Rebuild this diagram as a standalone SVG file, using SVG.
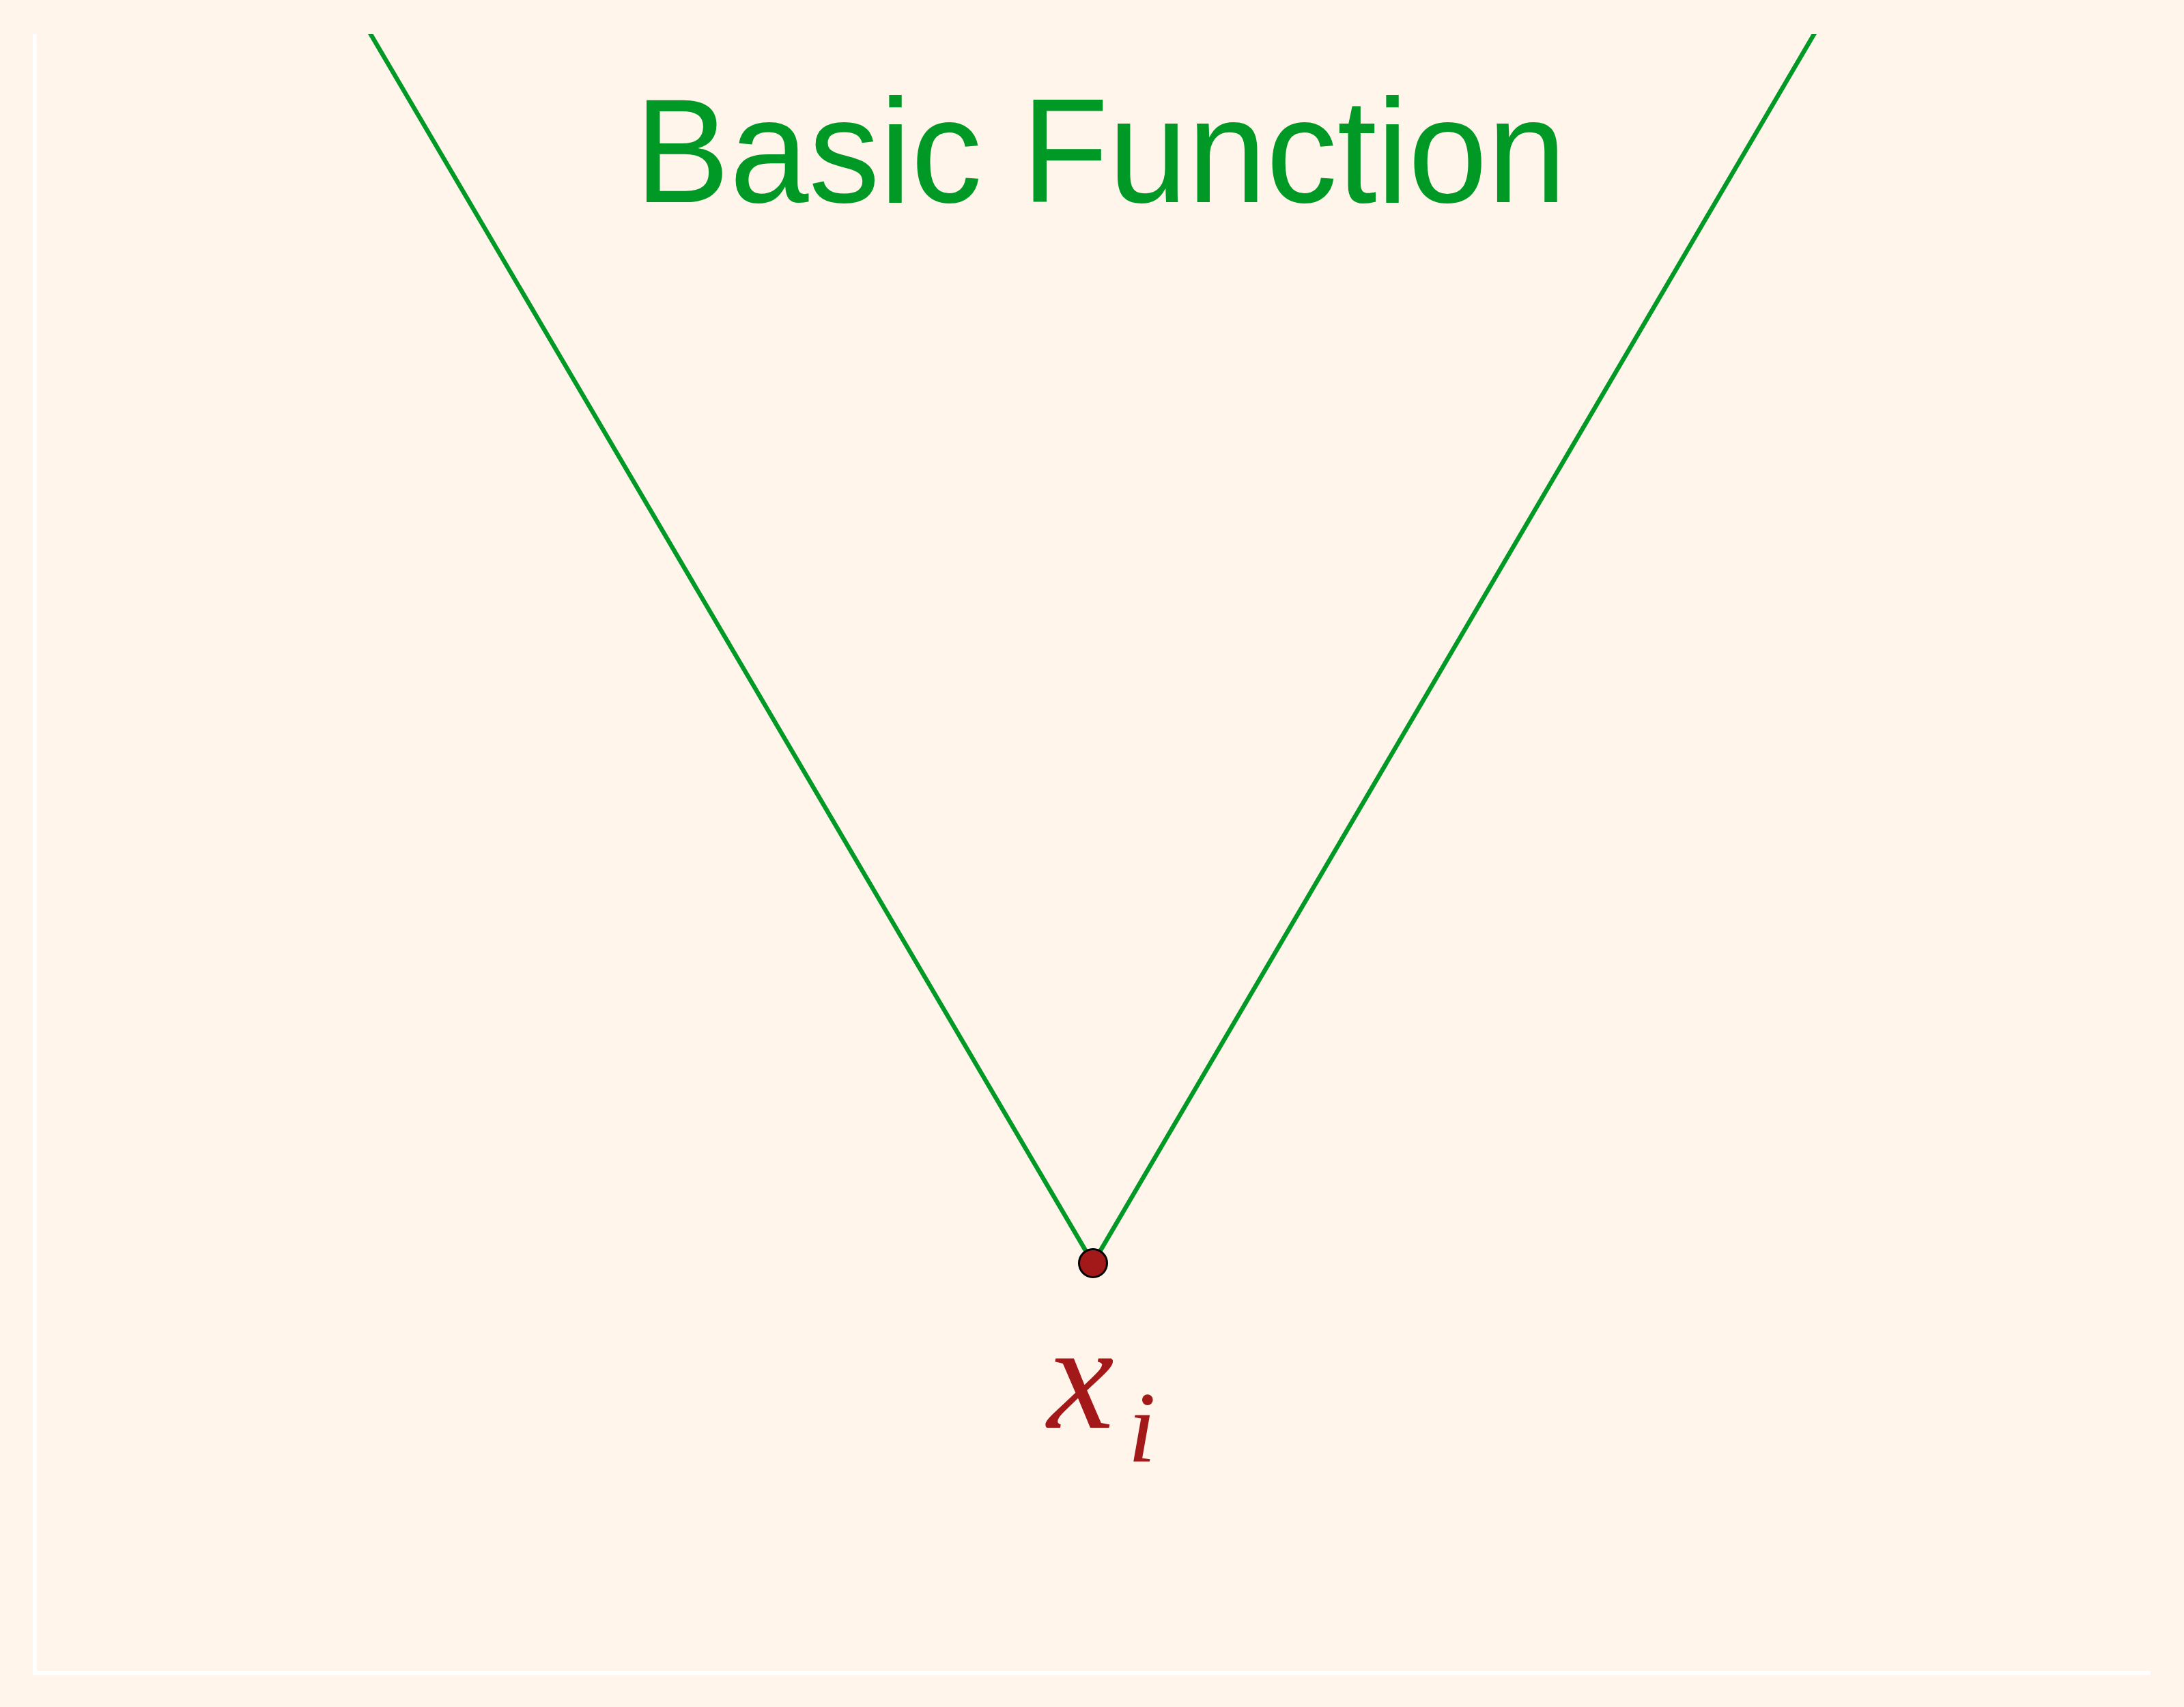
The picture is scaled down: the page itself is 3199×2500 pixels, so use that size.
<svg xmlns="http://www.w3.org/2000/svg" width="3199" height="2500" viewBox="0 0 3199 2500">
<style>
.axis{stroke:#ffffff;stroke-width:6;fill:none}
.fn{stroke:#009926;stroke-width:6.5;fill:none;stroke-linecap:butt}
.title{font-family:"Liberation Sans",Arial,sans-serif;font-size:208px;fill:#009926}
.math{font-family:"Liberation Serif","Times New Roman",serif;font-style:italic;fill:#a31818}
</style>
<defs>
<clipPath id="plot"><rect x="0" y="50" width="3199" height="2450"/></clipPath>
</defs>
<rect x="0" y="0" width="3199" height="2500" fill="#fff5ea"/>
<g id="axes">
<line class="axis" x1="51" y1="50" x2="51" y2="2453"/>
<line class="axis" x1="48" y1="2450" x2="3150" y2="2450"/>
</g>
<g id="connectors" clip-path="url(#plot)">
<line class="fn" x1="537" y1="40" x2="1601" y2="1850"/>
<line class="fn" x1="1601" y1="1850" x2="2663" y2="40"/>
</g>
<g id="title">
<text class="title" x="930" y="296" transform="translate(0 296) scale(1 1.048) translate(0 -296)">Basic Function</text>
</g>
<g id="point">
<circle cx="1601" cy="1850" r="20.5" fill="#a31818" stroke="#000000" stroke-width="3"/>
</g>
<g id="label">
<text class="math" x="1534" y="2091" font-size="220">x</text>
<text class="math" x="1652" y="2141" font-size="148">i</text>
</g>
</svg>
